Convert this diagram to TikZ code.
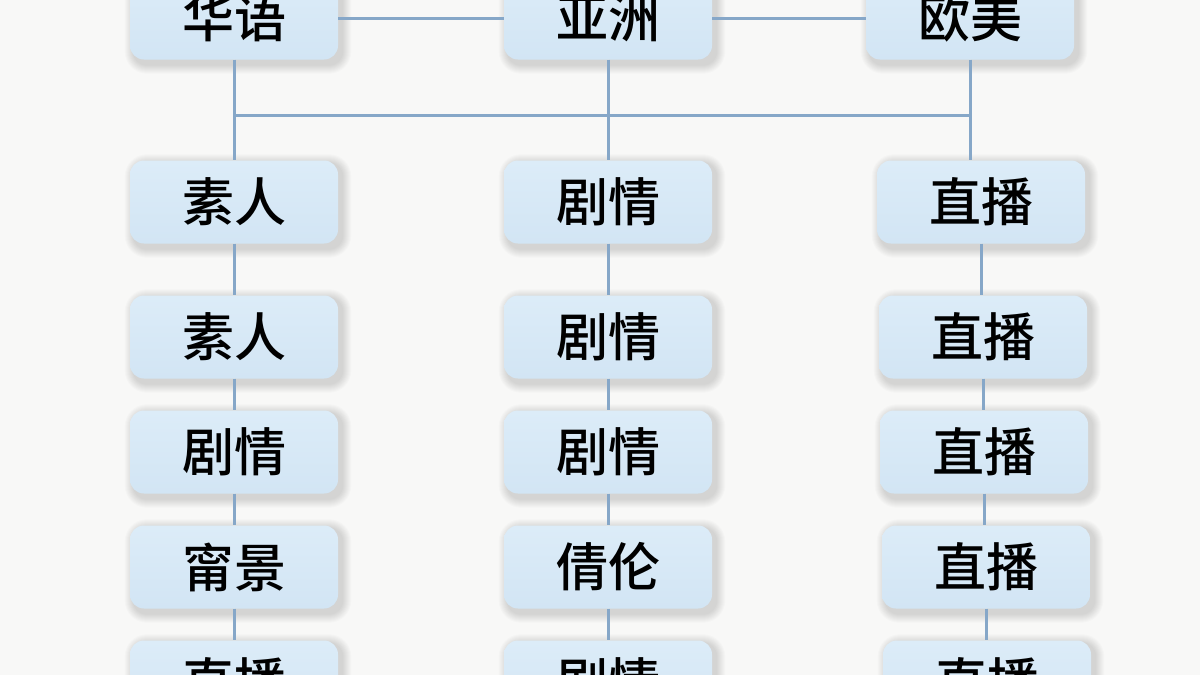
\documentclass[tikz,border=0pt]{standalone}
\usepackage{fontspec}
\newfontfamily\cjk{Noto Sans CJK SC Medium}
\usetikzlibrary{calc}
\pgfdeclarelayer{back}
\pgfdeclarelayer{shade}
\pgfsetlayers{back,shade,main}
\definecolor{bgc}{HTML}{F8F8F7}
\definecolor{boxtop}{HTML}{DCECF8}
\definecolor{boxbot}{HTML}{D2E5F4}
\definecolor{linec}{HTML}{86A7C8}
\tikzset{
  cat/.style={rounded corners=14pt, minimum width=208pt, minimum height=83pt,
    top color=boxtop, bottom color=boxbot, draw=none,
    font=\cjk\fontsize{52}{52}\selectfont, text=black, inner sep=0pt},
  conn/.style={draw=linec, line width=3pt},
  softshadow/.style={fill=black, opacity=0.016}
}
\begin{document}
\begin{tikzpicture}[x=1pt,y=-1pt]
\useasboundingbox (0,0) rectangle (1200,675);
\begin{pgfonlayer}{back}
\fill[bgc] (0,0) rectangle (1200,675);
\end{pgfonlayer}
\begin{scope}
\clip (0,0) rectangle (1200,675);
% top row
\node[cat] (hy) at (234,18) {华语};
\node[cat] (yz) at (608,18) {亚洲};
\node[cat] (om) at (970,18) {欧美};
% column 1
\node[cat] (a1) at (234,202) {素人};
\node[cat] (a2) at (234,337) {素人};
\node[cat] (a3) at (234,452) {剧情};
\node[cat] (a4) at (234,567) {甯景};
\node[cat] (a5) at (234,682) {直播};
% column 2
\node[cat] (b1) at (608,202) {剧情};
\node[cat] (b2) at (608,337) {剧情};
\node[cat] (b3) at (608,452) {剧情};
\node[cat] (b4) at (608,567) {倩伦};
\node[cat] (b5) at (608,682) {剧情};
% column 3
\node[cat] (c1) at (981,202) {直播};
\node[cat] (c2) at (983,337) {直播};
\node[cat] (c3) at (984,452) {直播};
\node[cat] (c4) at (986,567) {直播};
\node[cat] (c5) at (987,682) {直播};
\coordinate (h1) at (234,115);
\coordinate (h3) at (970,115);
% soft shadows
\begin{pgfonlayer}{shade}
\foreach \n in {hy,yz,om,a1,a2,a3,a4,a5,b1,b2,b3,b4,b5,c1,c2,c3,c4,c5}{
  \foreach \i in {0,...,8}{
    \pgfmathsetmacro{\rr}{14+\i}
    \fill[softshadow, rounded corners=\rr pt]
      ($(\n.south west)+(3-\i,6+\i)$) rectangle ($(\n.north east)+(5+\i,2-\i)$);
  }
}
\end{pgfonlayer}
\end{scope}
% connectors
\draw[conn] (hy.east) -- (yz.west);
\draw[conn] (yz.east) -- (om.west);
\draw[conn] (hy.south) -- (a1.north);
\draw[conn] (yz.south) -- (b1.north);
\draw[conn] (om.south) -- (c1.north -| om.south);
\draw[conn] (h1) -- (h3);
\draw[conn] (a1.south) -- (a2.north);
\draw[conn] (a2.south) -- (a3.north);
\draw[conn] (a3.south) -- (a4.north);
\draw[conn] (a4.south) -- (a5.north);
\draw[conn] (b1.south) -- (b2.north);
\draw[conn] (b2.south) -- (b3.north);
\draw[conn] (b3.south) -- (b4.north);
\draw[conn] (b4.south) -- (b5.north);
\draw[conn] (c1.south) -- (c1.south |- c2.north);
\draw[conn] (c2.south) -- (c2.south |- c3.north);
\draw[conn] (c3.south) -- (c3.south |- c4.north);
\draw[conn] (c4.south) -- (c4.south |- c5.north);
\end{tikzpicture}
\end{document}
